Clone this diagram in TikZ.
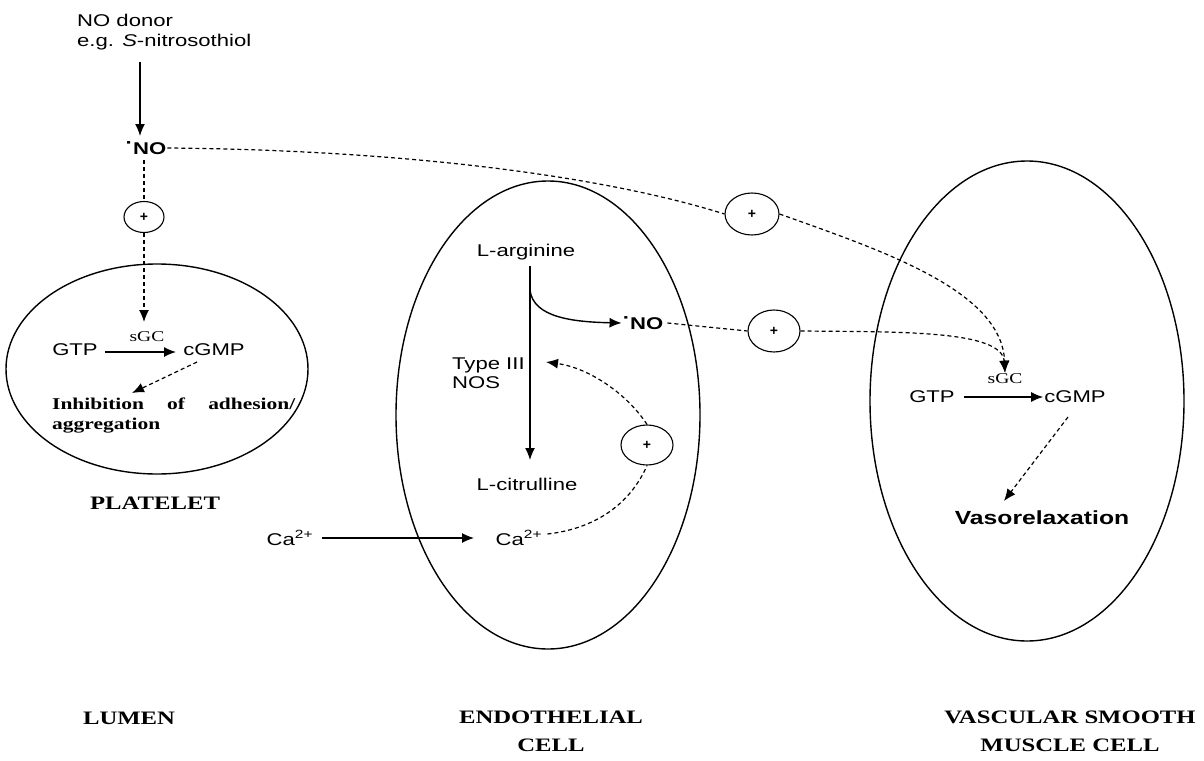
\documentclass[tikz,border=0pt]{standalone}
\usepackage{fontspec}
\setmainfont{Liberation Sans}
\newfontfamily\tnr{Liberation Serif}
\usetikzlibrary{arrows.meta,shapes.geometric}
\newcommand{\wx}[1]{\scalebox{1.3}[1]{#1}}
\newcommand{\rdot}{\raisebox{0.75ex}{·}}
\tikzset{
  cell/.style={draw, line width=1.4pt},
  plus/.style={draw, line width=1.1pt, ellipse},
  sans/.style={font=\fontsize{17}{19}\selectfont, inner sep=1pt},
  sansb/.style={font=\fontsize{17}{19}\selectfont\bfseries, inner sep=1pt},
  serif/.style={font=\fontsize{15}{17}\selectfont\tnr, inner sep=1pt},
  title/.style={font=\fontsize{19}{28}\selectfont\tnr\bfseries, align=center, inner sep=1pt},
  solidarr/.style={line width=1.4pt, -{Latex[length=12pt,width=10pt]}},
  dasharr/.style={line width=1.2pt, dash pattern=on 4pt off 3pt, -{Latex[length=12pt,width=10pt]}},
  dashline/.style={line width=1.2pt, dash pattern=on 4pt off 3pt},
  pluslbl/.style={font=\fontsize{14}{14}\selectfont\bfseries},
}
\begin{document}
\begin{tikzpicture}[x=1pt,y=-1pt]
\useasboundingbox[fill=white] (0,0) rectangle (1204,760);

% ---------- cells ----------
\draw[cell] (157,369) ellipse [x radius=151, y radius=105];
\draw[cell] (548,415) ellipse [x radius=152, y radius=234];
\draw[cell] (1027,401) ellipse [x radius=157, y radius=240];

% ---------- NO donor / platelet ----------
\node[sans, anchor=north west, align=left] (donor) at (76,13) {\wx{NO donor}\\[1pt]\wx{e.g. \textit{S}-nitrosothiol}};
\coordinate (donorarr) at (140,62);
\node[sansb] (no1) at (146,148) {\wx{\rdot NO}};
\draw[solidarr] (donorarr) -- (140,136);
\node[plus, minimum width=40pt, minimum height=31pt, inner sep=0pt, pluslbl] (c1) at (144,217) {+};
\draw[dashline] (144,160) -- (c1.north);
\node[serif] (sgc1) at (147,337) {\wx{sGC}};
\draw[dasharr] (c1.south) -- (144,322);
\node[sans] (gtp1) at (75,350) {\wx{GTP}};
\node[sans] (cgmp1) at (214,350) {\wx{cGMP}};
\draw[solidarr, line width=1.2pt] (gtp1.east) ++(6,2) -- (176,352);
\node[font=\fontsize{16.5}{20}\selectfont\tnr\bfseries, anchor=north west, align=left, inner sep=0pt] (inhib) at (52,398) {\wx{\makebox[187pt][s]{Inhibition of adhesion/}}\\\wx{aggregation}};
\coordinate (cg1a) at (197,362);
\coordinate (cg1b) at (132,393);
\draw[dasharr] (cg1a) -- (cg1b);
\node[title] (platelet) at (155,503) {\wx{PLATELET}};

% ---------- endothelial cell ----------
\node[sans] (larg) at (526,252) {\wx{L-arginine}};
\node[sans] (lcit) at (527,484) {\wx{L-citrulline}};
\draw[solidarr] (530,266) -- (530,460);
\node[sansb] (no2) at (643,323) {\wx{\rdot NO}};
\draw[solidarr] (530,290) .. controls (533,318) and (575,322) .. (no2.west);
\node[sans, anchor=north west, align=left] (nos) at (451,357) {\wx{Type III}\\\wx{NOS}};
\node[plus, minimum width=52pt, minimum height=40pt, inner sep=0pt, pluslbl] (c3) at (647,445) {+};
\draw[dasharr] (c3.north) .. controls (628,395) and (590,368) .. (546,362);
\node[sans] (ca1) at (290,538) {\wx{Ca\textsuperscript{2+}}};
\node[sans] (ca2) at (519,538) {\wx{Ca\textsuperscript{2+}}};
\draw[solidarr, line width=1.2pt] (ca1.east) ++(8,0) -- (474,538);
\draw[dashline] (ca2.east) ++(4,-4) .. controls (600,528) and (632,500) .. (c3.south);

% ---------- NO pathways to VSM ----------
\node[plus, minimum width=54pt, minimum height=42pt, inner sep=0pt, pluslbl] (c2) at (752,214) {+};
\node[plus, minimum width=52pt, minimum height=42pt, inner sep=0pt, pluslbl] (c4) at (774,331) {+};
\node[serif] (sgc2) at (1005,379) {\wx{sGC}};
\draw[dashline] (no1.east) .. controls (400,150) and (600,175) .. (c2.west);
\draw[dasharr] (c2.east) .. controls (880,250) and (1002,290) .. (sgc2.north);
\draw[dashline] (no2.east) ++(3,0) -- (c4.west);
\draw[dasharr] (c4.east) .. controls (900,332) and (1002,330) .. (sgc2.north);

% ---------- VSM ----------
\node[sans] (gtp2) at (932,397) {\wx{GTP}};
\node[sans] (cgmp2) at (1075,397) {\wx{cGMP}};
\draw[solidarr, line width=1.2pt] (gtp2.east) ++(8,0) -- (cgmp2.west);
\node[font=\fontsize{19}{21}\selectfont\bfseries, inner sep=1pt] (vaso) at (1042,518) {\wx{Vasorelaxation}};
\coordinate (cg2a) at (1068,417);
\coordinate (cg2b) at (1004,501);
\draw[dasharr] (cg2a) -- (cg2b);

% ---------- bottom labels ----------
\node[title] (lumen) at (129,718) {\wx{LUMEN}};
\node[title] (endo) at (551,731) {\wx{ENDOTHELIAL}\\\wx{CELL}};
\node[title] (vsm) at (1070,731) {\wx{VASCULAR SMOOTH}\\\wx{MUSCLE CELL}};
\end{tikzpicture}
\end{document}
